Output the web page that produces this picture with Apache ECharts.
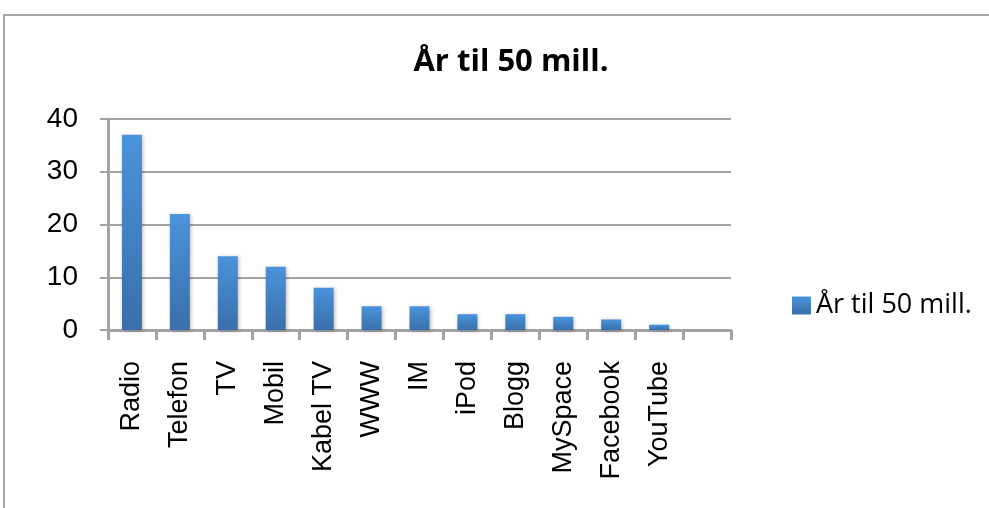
<!DOCTYPE html>
<html>
<head>
<meta charset="utf-8">
<script src="https://cdn.jsdelivr.net/npm/echarts@6/dist/echarts.min.js"></script>
<style>
  html, body { margin: 0; padding: 0; background: #fff; }
  #chart { width: 989px; height: 508px; }
</style>
</head>
<body>
<div id="chart"></div>
<script>
// kategorier (siste er tom, som i originalen)
var categories = ['Radio', 'Telefon', 'TV', 'Mobil', 'Kabel TV', 'WWW', 'IM', 'iPod', 'Blogg', 'MySpace', 'Facebook', 'YouTube', ''];
// år til 50 mill. brukere
var years = [37, 22, 14, 12, 8, 4.5, 4.5, 3, 3, 2.5, 2, 1, null];
var seriesName = 'År til 50 mill.';
var yTicks = { min: 0, max: 40, interval: 10 };

var chart = echarts.init(document.getElementById('chart'));

var gridColor = '#a3a3a3';
var barColor = new echarts.graphic.LinearGradient(0, 0, 0, 1, [
    { offset: 0, color: '#4a93dc' },
    { offset: 1, color: '#3a6fa9' }
]);

var option = {
    animation: false,
    backgroundColor: '#fff',
    title: {
        text: seriesName,
        left: 506,
        top: 42,
        textAlign: 'center',
        textStyle: {
            fontFamily: 'Open Sans',
            fontWeight: 'bold',
            fontSize: 31,
            color: '#000'
        }
    },
    legend: {
        data: [seriesName],
        left: 787,
        top: 287,
        icon: 'rect',
        itemWidth: 19,
        itemHeight: 18,
        itemGap: 6,
        textStyle: {
            fontFamily: 'Open Sans',
            fontSize: 27,
            color: '#000'
        }
    },
    grid: {
        left: 108,
        right: 258,
        top: 119,
        bottom: 178,
        containLabel: false
    },
    xAxis: {
        type: 'category',
        data: categories,
        boundaryGap: true,
        axisLine: { lineStyle: { color: gridColor, width: 3 } },
        axisTick: { show: true, interval: 0, length: 10, lineStyle: { color: gridColor, width: 3 } },
        axisLabel: {
            interval: 0,
            rotate: 90,
            margin: 31,
            fontFamily: 'Liberation Sans',
            fontSize: 27,
            color: '#000'
        }
    },
    yAxis: {
        type: 'value',
        min: yTicks.min,
        max: yTicks.max,
        interval: yTicks.interval,
        axisLine: { show: true, lineStyle: { color: gridColor, width: 3 } },
        axisTick: { show: true, length: 8, lineStyle: { color: gridColor, width: 2 } },
        splitLine: { lineStyle: { color: gridColor, width: 2 } },
        axisLabel: {
            margin: 30,
            fontFamily: 'Liberation Sans',
            fontSize: 28,
            color: '#000'
        }
    },
    series: [{
        name: seriesName,
        type: 'bar',
        data: years,
        barWidth: 20,
        itemStyle: {
            color: barColor,
            shadowColor: 'rgba(0,0,0,0.25)',
            shadowBlur: 4,
            shadowOffsetX: 1,
            shadowOffsetY: 1
        }
    }],
    graphic: [{
        type: 'rect',
        shape: { x: 4, y: 15, width: 1100, height: 700 },
        style: { fill: null, stroke: '#a6a6a6', lineWidth: 2 },
        silent: true
    }]
};

chart.setOption(option);
</script>
</body>
</html>
